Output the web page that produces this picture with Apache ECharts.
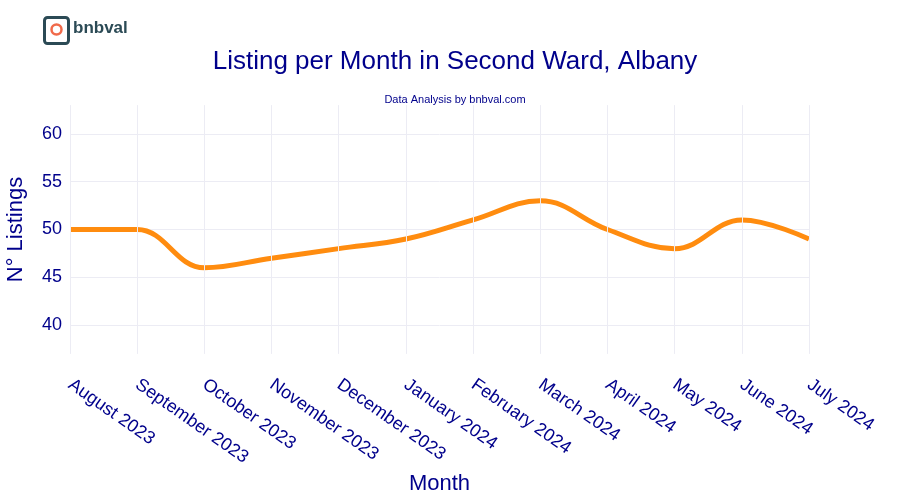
<!DOCTYPE html>
<html>
<head>
<meta charset="utf-8">
<script src="https://cdn.jsdelivr.net/npm/echarts@6/dist/echarts.min.js"></script>
<style>html,body{margin:0;padding:0;background:#fff}#chart{width:900px;height:500px}</style>
</head>
<body>
<div id="chart"></div>
<script>
// data
var months = ['August 2023','September 2023','October 2023','November 2023','December 2023','January 2024',
  'February 2024','March 2024','April 2024','May 2024','June 2024','July 2024'];
var listings = [50, 50, 46, 47, 48, 49, 51, 53, 50, 48, 51, 49];
var yTicks = [40, 45, 50, 55, 60];

var navy = '#00008b';
var grid = '#ececf4';
var chart = echarts.init(document.getElementById('chart'));
chart.setOption({
  animation: false,
  textStyle: {fontFamily: 'Liberation Sans, Arial, sans-serif'},
  title: [
    {text: 'Listing per Month in Second Ward, Albany', left: 450, top: 44, textAlign: 'center',
      textStyle: {color: navy, fontSize: 26, fontWeight: 'normal'}},
    {text: 'Data Analysis by bnbval.com', left: 450, top: 89, textAlign: 'center',
      textStyle: {color: navy, fontSize: 11, fontWeight: 'normal'}}
  ],
  graphic: [
    {type: 'rect', left: 43, top: 16, shape: {width: 24, height: 26, r: 3}, style: {fill: '#fff', stroke: '#2b4a55', lineWidth: 3}},
    {type: 'circle', left: 49, top: 22, shape: {r: 5}, style: {fill: 'none', stroke: '#f06a4a', lineWidth: 2.5}},
    {type: 'text', left: 73, top: 20, style: {text: 'bnbval', fill: '#2b4a55', fontSize: 17, fontWeight: 'bold'}}
  ],
  grid: {left: 70, right: 91, top: 86, bottom: 127, containLabel: false, outerBoundsMode: 'none'},
  xAxis: {
    type: 'category', data: months, boundaryGap: false, name: 'Month',
    nameLocation: 'middle', nameGap: 92, nameTextStyle: {color: navy, fontSize: 22},
    axisLine: {show: false}, axisTick: {show: false},
    splitLine: {show: false},
    axisLabel: {color: navy, fontSize: 18, rotate: -35, interval: 0, margin: 10}
  },
  yAxis: {
    type: 'value', min: 35, max: 65, interval: 5, name: 'N° Listings',
    nameLocation: 'middle', nameGap: 43, nameTextStyle: {color: navy, fontSize: 22},
    axisLine: {show: false}, axisTick: {show: false},
    splitLine: {lineStyle: {color: ['transparent', grid, grid, grid, grid, grid, 'transparent']}},
    axisLabel: {color: navy, fontSize: 18,
      formatter: function (v) { return yTicks.indexOf(v) >= 0 ? v : ''; }}
  },
  series: [{
    type: 'line', data: listings, smooth: 0.4, showSymbol: false,
    lineStyle: {color: '#ff8c0f', width: 5},
    markLine: {
      silent: true, symbol: 'none', label: {show: false},
      lineStyle: {color: grid, width: 1, type: 'solid'},
      data: months.map(function (m) { return [{coord: [m, 37]}, {coord: [m, 63]}]; })
    }
  }]
});
</script>
</body>
</html>
